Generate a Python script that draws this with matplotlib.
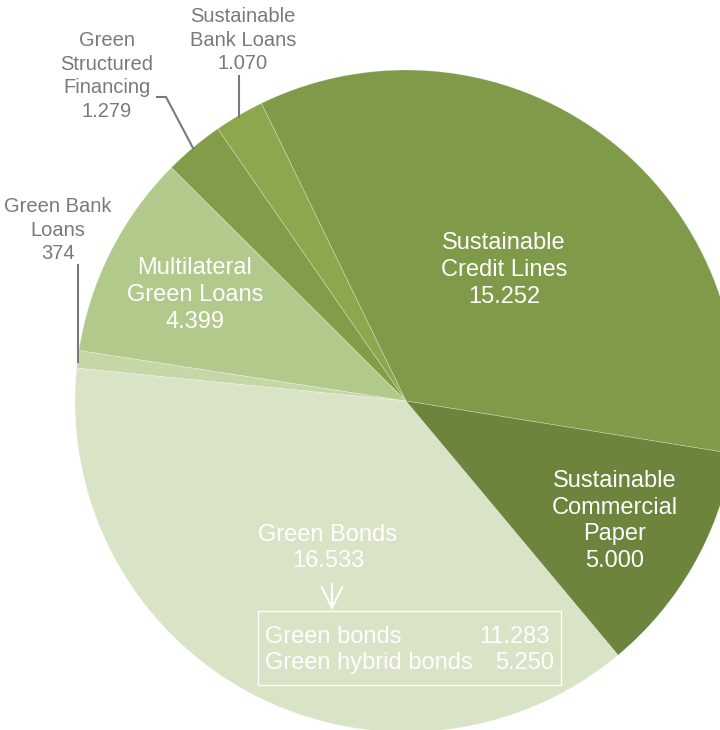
import matplotlib.pyplot as plt

plt.rcParams["font.family"] = ["Liberation Sans", "DejaVu Sans"]

# slices, counter-clockwise starting at the right edge
LABELS = [
    "Sustainable\nCredit Lines",
    "Sustainable\nBank Loans",
    "Green\nStructured\nFinancing",
    "Multilateral\nGreen Loans",
    "Green Bank\nLoans",
    "Green Bonds",
    "Sustainable\nCommercial\nPaper",
]
VALUES = [15252, 1070, 1279, 4399, 374, 16533, 5000]
COLORS = ["#7f9a48", "#8ba84f", "#829d49", "#b2c98c", "#c5d7a6", "#d9e4c7", "#6c843c"]

BOND_PARTS = ["Green bonds", "Green hybrid bonds"]
BOND_VALUES = [11283, 5250]

W, H = 720, 730
GREY = "#7a7a7a"


def fmt(v):
    return f"{v:,}".replace(",", ".")


def Y(py):
    # pixel row -> data y
    return H - py


fig = plt.figure(figsize=(W / 100, H / 100), dpi=100)
ax = fig.add_axes([0, 0, 1, 1])

ax.pie(VALUES, colors=COLORS, startangle=-9.15, counterclock=True,
       center=(406, Y(401)), radius=331,
       wedgeprops=dict(edgecolor=(1, 1, 1, 0.35), linewidth=0.5))

ax.set_xlim(0, W)
ax.set_ylim(0, H)
ax.set_aspect("equal")
ax.axis("off")

texts = [fmt(v) for v in VALUES]

# labels inside the slices (white)
inside = {0: (504, 270), 3: (195, 295), 6: (615, 521), 5: (328, 548)}
for i, (px, py) in inside.items():
    ax.text(px, Y(py), LABELS[i] + "\n" + texts[i], color="white", fontsize=17,
            ha="center", va="center", linespacing=1.28)

# labels outside (grey) with leader lines
outside = {1: (243, 40), 2: (107, 76), 4: (58, 230)}
for i, (px, py) in outside.items():
    ax.text(px, Y(py), LABELS[i] + "\n" + texts[i], color=GREY, fontsize=14.5,
            ha="center", va="center", linespacing=1.32)

ax.plot([239, 239], [Y(76), Y(117)], color=GREY, lw=1.5)
ax.plot([157, 166, 193], [Y(97), Y(97), Y(148)], color=GREY, lw=1.5)
ax.plot([78, 78], [Y(265), Y(362)], color=GREY, lw=1.5)

# green bonds breakdown box
ax.annotate("", xy=(332, Y(610)), xytext=(332, Y(584)),
            arrowprops=dict(arrowstyle="->,head_length=0.6,head_width=0.3",
                            color="white", lw=1.5, mutation_scale=25,
                            shrinkA=0, shrinkB=0))
ax.add_patch(plt.Rectangle((258, Y(685)), 303, 74, fill=False, edgecolor="white", lw=1))
for k, (name, val) in enumerate(zip(BOND_PARTS, BOND_VALUES)):
    yy = Y(637 + 26 * k)
    ax.text(265, yy, name, color="white", fontsize=17, ha="left", va="center")
    ax.text(550 + 4 * k, yy, fmt(val), color="white", fontsize=17, ha="right", va="center")

fig.savefig("out.png", dpi=100)
